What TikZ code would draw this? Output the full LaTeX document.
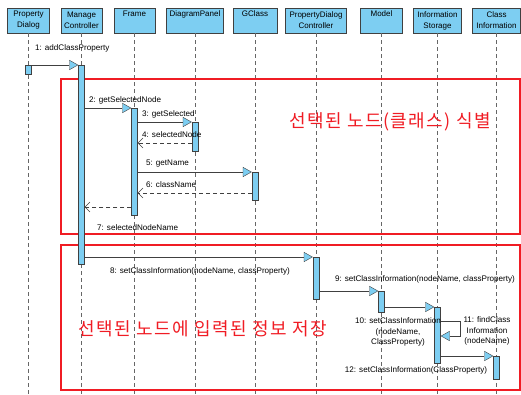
\documentclass[tikz,border=0pt]{standalone}
\usepackage{fontspec}
\setmainfont{Liberation Sans}
\newfontfamily\krfont[LetterSpace=8]{Noto Sans CJK KR}
\usetikzlibrary{positioning}
\usetikzlibrary{arrows.meta}
\definecolor{lifebox}{RGB}{125,206,242}
\definecolor{lifeline}{rgb}{0.4,0.4,0.4}
\definecolor{msgline}{rgb}{0.25,0.25,0.25}
\definecolor{fragred}{RGB}{240,28,36}

\tikzset{
  head/.style={draw=msgline, fill=lifebox, minimum height=25pt, align=center,
    inner sep=1pt, font=\fontsize{8}{11}\selectfont},
  life/.style={draw=lifeline, dash pattern=on 4pt off 3pt},
  actbar/.style={draw=msgline, fill=lifebox, minimum width=6pt, inner sep=0pt, anchor=north},
  call/.style={draw=msgline, -{Triangle[length=9pt,width=10pt,fill=lifebox]}},
  reply/.style={draw=msgline, dash pattern=on 4pt off 3pt, -{Straight Barb[length=5pt,width=10pt]}},
  lbl/.style={inner sep=0pt, align=center, font=\fontsize{8.1}{10.8}\selectfont},
  frag/.style={draw=fragred, line width=1.8pt},
  kr/.style={text=fragred, font=\krfont\fontsize{18}{21}\selectfont},
}

\begin{document}
\begin{tikzpicture}[x=1pt,y=-1pt]
  \useasboundingbox (0,0) rectangle (521,394);

  % lifeline heads
  \node[head, minimum width=42pt] (pd)  at (28.5,20.5) {Property\\Dialog};
  \node[head, minimum width=41pt] (mc)  at (81.5,20.5) {Manage\\Controller};
  \node[head, minimum width=41pt] (fr)  at (134.5,20.5) {Frame\\\strut};
  \node[head, minimum width=57pt] (dp)  at (195,20.5) {DiagramPanel\\\strut};
  \node[head, minimum width=44pt] (gc)  at (255,20.5) {GClass\\\strut};
  \node[head, minimum width=61pt] (pdc) at (316,20.5) {PropertyDialog\\Controller};
  \node[head, minimum width=42pt] (md)  at (381.5,20.5) {Model\\\strut};
  \node[head, minimum width=48pt] (is)  at (437.5,20.5) {Information\\Storage};
  \node[head, minimum width=48pt] (ci)  at (496.5,20.5) {Class\\Information};

  \foreach \h in {pd,mc,fr,dp,gc,pdc,md,is,ci}
    \draw[life] (\h.south) -- (\h.south |- 0,394);

  % fragments
  \draw[frag] (61,79) rectangle (520,234);
  \draw[frag] (61,245) rectangle (520,390);
  \node[kr] (sel) at (390,122) {선택된 노드(클래스) 식별};
  \node[kr] (sav) at (203,329) {선택된 노드에 입력된 정보 저장};

  % activations
  \node[actbar, minimum height=9pt]   (pdact)  at (pd |- 0,65)  {};
  \node[actbar, minimum height=199pt] (mcact)  at (mc |- 0,65)  {};
  \node[actbar, minimum height=107pt] (fract)  at (fr |- 0,108) {};
  \node[actbar, minimum height=29pt]  (dpact)  at (dp |- 0,122) {};
  \node[actbar, minimum height=28pt]  (gcact)  at (gc |- 0,172) {};
  \node[actbar, minimum height=42pt]  (pdcact) at (pdc |- 0,257) {};
  \node[actbar, minimum height=21pt]  (mdact)  at (md |- 0,291) {};
  \node[actbar, minimum height=56pt]  (isact)  at (is |- 0,307) {};
  \node[actbar, minimum height=23pt]  (ciact)  at (ci |- 0,356) {};

  % messages
  \draw[call] (pdact.east |- 0,65) -- (mcact.north west);
  \node[lbl, anchor=west] (m1) at (35,48) {1: addClassProperty};

  \draw[call] (mcact.east |- 0,108) -- (fract.north west);
  \node[lbl, anchor=west] (m2) at (89,100) {2: getSelectedNode};
  \draw[call] (fract.east |- 0,122) -- (dpact.north west);
  \node[lbl, anchor=west] (m3) at (142,114) {3: getSelected};
  \draw[reply] (dpact.west |- 0,143) -- (fract.east |- 0,143);
  \node[lbl, anchor=west] (m4) at (142,135) {4: selectedNode};
  \draw[call] (fract.east |- 0,172) -- (gcact.north west);
  \node[lbl, anchor=west] (m5) at (146,164) {5: getName};
  \draw[reply] (gcact.west |- 0,193) -- (fract.east |- 0,193);
  \node[lbl, anchor=west] (m6) at (146,185) {6: className};
  \draw[reply] (fract.west |- 0,207) -- (mcact.east |- 0,207);
  \node[lbl, anchor=west] (m7) at (97,228) {7: selectedNodeName};

  \draw[call] (mcact.east |- 0,257) -- (pdcact.north west);
  \node[lbl] (m8) at (200,271) {8: setClassInformation(nodeName, classProperty)};
  \draw[call] (pdcact.east |- 0,291) -- (mdact.north west);
  \node[lbl] (m9) at (425,279) {9: setClassInformation(nodeName, classProperty)};
  \draw[call] (mdact.east |- 0,307) -- (isact.north west);
  \node[lbl] (m10) at (398,332) {10: setClassInformation\\(nodeName,\\ClassProperty)};
  \draw[call] (isact.east |- 0,321) -- ++(19,0) |- (isact.east |- 0,336);
  \node[lbl] (m11) at (487,331) {11: findClass\\Information\\(nodeName)};
  \draw[call] (isact.east |- 0,356) -- (ciact.north west);
  \node[lbl] (m12) at (416,370) {12: setClassInformation(ClassProperty)};

\end{tikzpicture}
\end{document}
